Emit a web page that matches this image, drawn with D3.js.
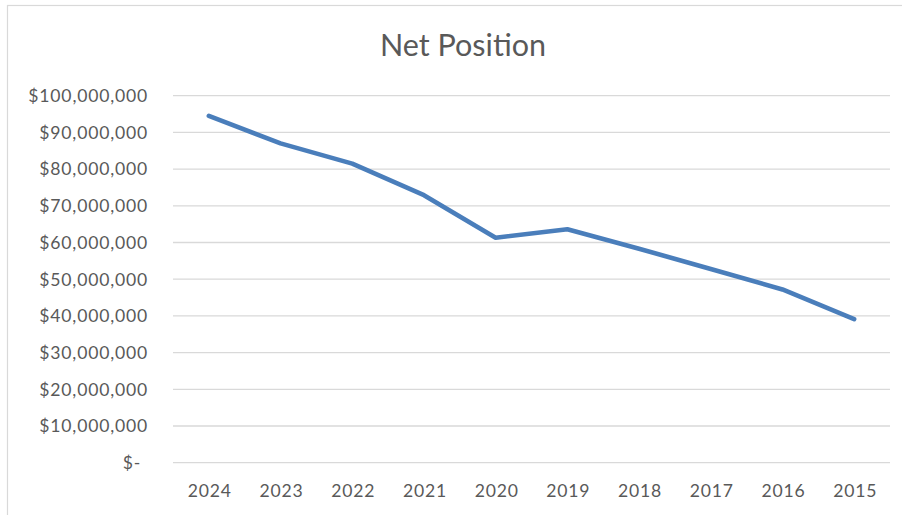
<!DOCTYPE html>
<html><head><meta charset="utf-8">
<script src="https://cdn.jsdelivr.net/npm/d3@7"></script>
<style>html,body{margin:0;padding:0;background:#fff;overflow:hidden}</style>
</head><body>
<svg id="c" width="902" height="515"></svg>
<script>
const title = "Net Position";
const years = ["2024","2023","2022","2021","2020","2019","2018","2017","2016","2015"];
const netPosition = [94500000, 87000000, 81500000, 72900000, 61300000, 63600000, 58300000, 52800000, 47200000, 39100000];
const yTicks = [0,10000000,20000000,30000000,40000000,50000000,60000000,70000000,80000000,90000000,100000000];

const svg = d3.select("#c");
const font = "Lato, 'Open Sans', sans-serif";

svg.append("rect").attr("x",7.5).attr("y",5.5).attr("width",1000).attr("height",1000)
  .attr("fill","#fff").attr("stroke","#d9d9d9").attr("stroke-width",1.2);

const x = d3.scaleBand().domain(years).range([173, 890]).padding(0);
const y = d3.scaleLinear().domain([0, 100000000]).range([462.7, 95.7]);

const fmt = v => v === 0 ? "$-" : "$" + d3.format(",")(v);

const gy = svg.append("g");
gy.selectAll("line").data(yTicks).join("line")
  .attr("x1", 173).attr("x2", 890)
  .attr("y1", d => y(d)).attr("y2", d => y(d))
  .attr("stroke", "#d9d9d9").attr("stroke-width", 1.3);

gy.selectAll("text").data(yTicks).join("text")
  .attr("x", d => d === 0 ? 141 : 148)
  .attr("y", d => y(d)).attr("dy", "0.36em")
  .attr("text-anchor", "end")
  .attr("font-family", font).attr("font-size", 17.6).attr("letter-spacing", 0.8)
  .attr("fill", "#595959")
  .text(fmt);

svg.append("g").selectAll("text").data(years).join("text")
  .attr("x", d => x(d) + x.bandwidth()/2 + 1)
  .attr("y", 497)
  .attr("text-anchor", "middle")
  .attr("font-family", font).attr("font-size", 17.6).attr("letter-spacing", 0.8)
  .attr("fill", "#595959")
  .text(d => d);

const line = d3.line().x((d,i) => x(years[i]) + x.bandwidth()/2).y(d => y(d));
svg.append("path").datum(netPosition).attr("d", line)
  .attr("fill","none").attr("stroke","#4a7ebb").attr("stroke-width",4.6)
  .attr("stroke-linejoin","round").attr("stroke-linecap","round");

svg.append("text").attr("x", 463).attr("y", 56).attr("text-anchor","middle")
  .attr("font-family", font).attr("font-size", 30.5).attr("fill", "#595959")
  .text(title);
</script>
</body></html>
